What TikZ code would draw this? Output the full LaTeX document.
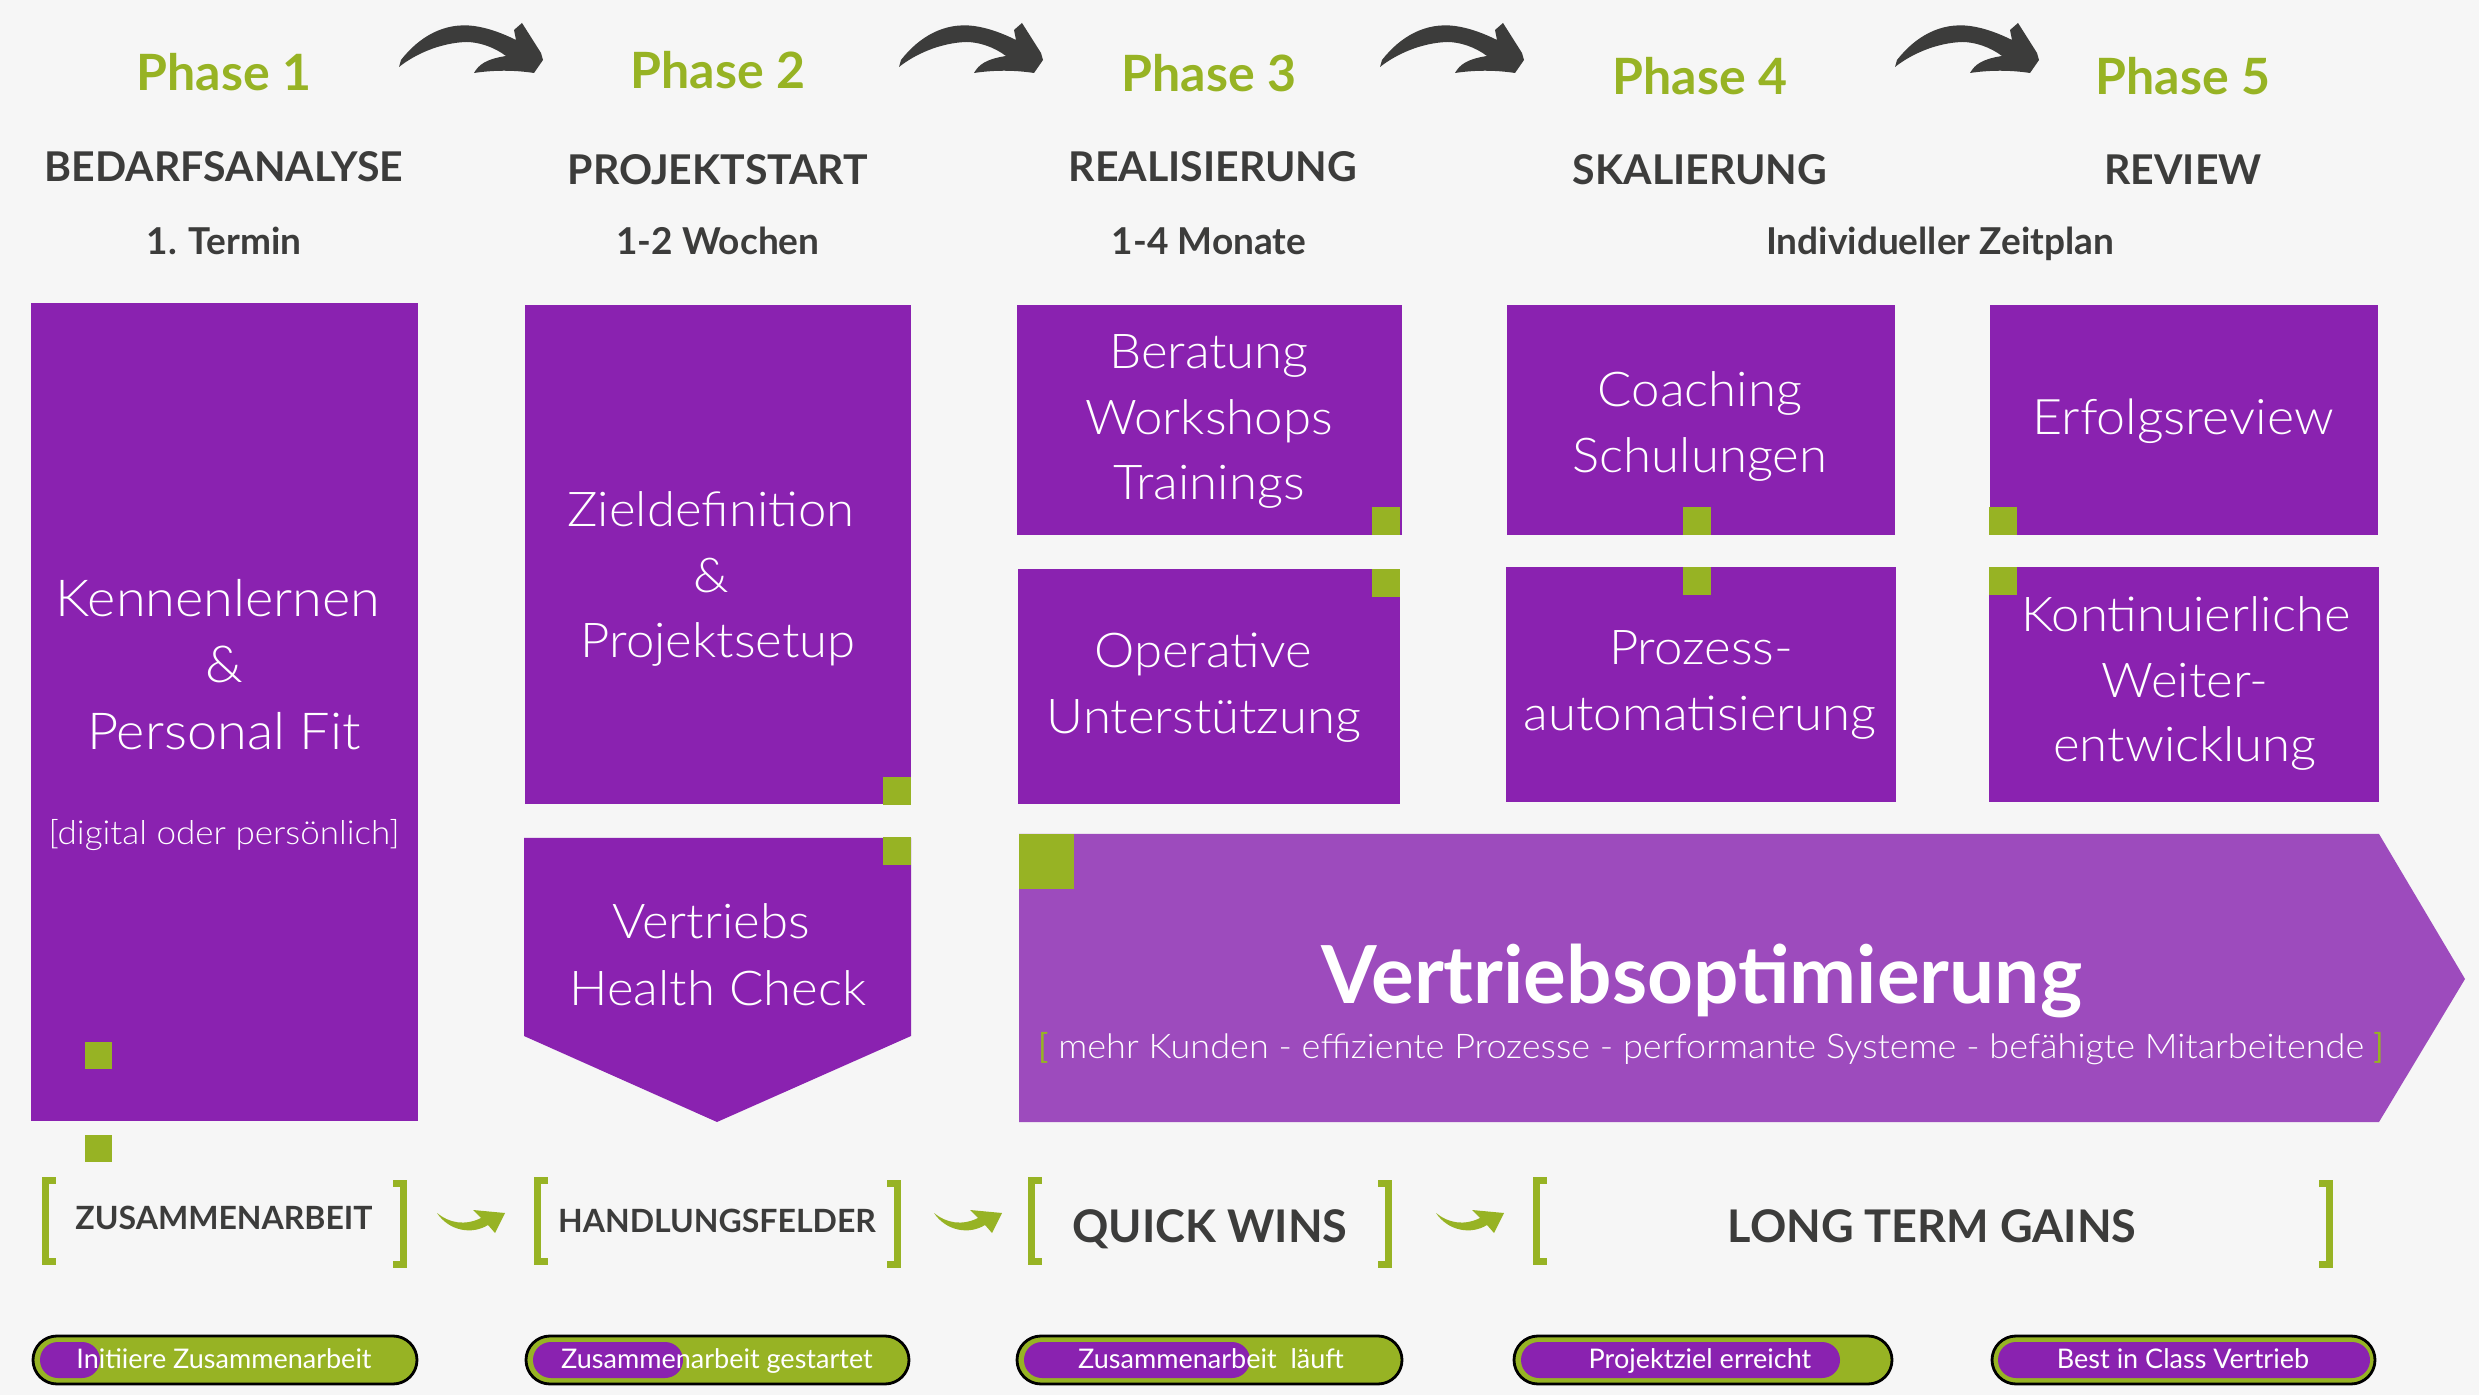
\documentclass[tikz,border=0pt]{standalone}
\usepackage{fontspec}
\setmainfont{Lato}
\IfFontExistsTF{Lato Light}{\newfontfamily\lightf[FakeStretch=1.06]{Lato Light}}{\newfontfamily\lightf[FakeStretch=1.06]{Lato}}
\definecolor{bg}{HTML}{F6F6F6}
\definecolor{purp}{HTML}{8A22B0}
\definecolor{lpurp}{HTML}{9D4BBD}
\definecolor{grn}{HTML}{97B324}
\definecolor{dark}{HTML}{3C3C3B}
\newcommand\fsz[1]{\fontsize{\fpeval{#1*0.28453}}{\fpeval{#1*0.28453*1.2}}\selectfont}
\tikzset{
  boxfill/.style={fill=purp},
  sq/.style={fill=grn},
  bt/.style={anchor=base, inner sep=0pt, text=white, font={\lightf\fsz{#1}}},
  phase/.style={anchor=base, inner sep=0pt, text=grn, font={\bfseries\fsz{50}}},
  head/.style={anchor=base, inner sep=0pt, text=dark, font={\bfseries\fsz{#1}}},
  pilltxt/.style={anchor=base, inner sep=0pt, text=white, font={\fsz{27}}},
  pillout/.style={draw=black, line width=0.8pt, fill=grn, rounded corners=0.24cm},
  pillin/.style={fill=purp, rounded corners=0.18cm},
  darr/.pic={\fill[dark] (0,0) -- (2,-7) .. controls (20,-30) and (45,-45) .. (75,-41)
     .. controls (90,-39) and (105,-33) .. (117,-27) -- (115,-37) -- (123,-44) -- (142,-14)
     -- (144,-7) -- (135,6) .. controls (115,3) and (95,3) .. (75,6)
     .. controls (80,-3) and (88,-8) .. (107,-11) .. controls (95,-20) and (80,-25) .. (67,-25)
     .. controls (40,-24) and (15,-12) .. (0,0) -- cycle;},
  garr/.pic={\fill[grn] (0,0) .. controls (12,10) and (28,13) .. (44,5) -- (36,-3) -- (68,0)
     -- (58,20) -- (51,12) .. controls (35,22) and (12,18) .. (0,0) -- cycle;},
  lbr/.pic={\fill[grn] (0,0) rectangle (14,7); \fill[grn] (0,0) rectangle (7,88); \fill[grn] (0,81) rectangle (14,88);},
  rbr/.pic={\fill[grn] (0,0) rectangle (14,7); \fill[grn] (7,0) rectangle (14,88); \fill[grn] (0,81) rectangle (14,88);}
}
\begin{document}
\begin{tikzpicture}[x=0.01cm,y=-0.01cm]
\useasboundingbox (0,0) rectangle (2479,1395);
\fill[bg] (0,0) rectangle (2479,1395);

% top curved arrows
\pic at (399,67) {darr};
\pic at (899,67) {darr};
\pic at (1380,67) {darr};
\pic at (1895,67) {darr};

% phase titles
\node[phase] (p1) at (224,91) {Phase 1};
\node[phase] (p2) at (718,89) {Phase 2};
\node[phase] (p3) at (1209,92) {Phase 3};
\node[phase] (p4) at (1700,95) {Phase 4};
\node[phase] (p5) at (2183,95) {Phase 5};

\node[head=41] (h1) at (224,182) {BEDARFSANALYSE};
\node[head=41] (h2) at (718,185) {PROJEKTSTART};
\node[head=41] (h3) at (1213,182) {REALISIERUNG};
\node[head=41] (h4) at (1700,185) {SKALIERUNG};
\node[head=41] (h5) at (2183,185) {REVIEW};

\node[head=37] (d1) at (224,255) {1. Termin};
\node[head=37] (d2) at (718,255) {1-2 Wochen};
\node[head=37] (d3) at (1209,255) {1-4 Monate};
\node[head=37] (d4) at (1940,255) {Individueller Zeitplan};

% boxes
\fill[boxfill] (31,303) rectangle (418,1121);
\fill[boxfill] (525,305) rectangle (911,804);
\fill[boxfill] (524,838) -- (911,838) -- (911,1036) -- (717,1122) -- (524,1036) -- cycle;
\fill[boxfill] (1017,305) rectangle (1402,535);
\fill[boxfill] (1018,569) rectangle (1400,804);
\fill[boxfill] (1507,305) rectangle (1895,535);
\fill[boxfill] (1506,567) rectangle (1896,802);
\fill[boxfill] (1990,305) rectangle (2378,535);
\fill[boxfill] (1989,567) rectangle (2379,802);
\fill[lpurp] (1019,834) -- (2379,834) -- (2465,979) -- (2379,1122) -- (1019,1122) -- cycle;

% green squares
\fill[sq] (85,1042) rectangle (112,1069);
\fill[sq] (85,1135) rectangle (112,1162);
\fill[sq] (883,777) rectangle (911,805);
\fill[sq] (883,837) rectangle (911,865);
\fill[sq] (1372,507) rectangle (1400,535);
\fill[sq] (1372,569) rectangle (1400,597);
\fill[sq] (1683,507) rectangle (1711,535);
\fill[sq] (1683,567) rectangle (1711,595);
\fill[sq] (1989,507) rectangle (2017,535);
\fill[sq] (1989,567) rectangle (2017,595);
\fill[sq] (1019,834) rectangle (1074,889);

% box texts
\node[bt=51] (k1) at (218,617) {Kennenlernen};
\node[bt=51] (k2) at (224,683) {\&};
\node[bt=51] (k3) at (224,750) {Personal Fit};
\node[bt=33] (k4) at (224,844) {[digital oder persönlich]};

\node[bt=48] (z1) at (711,527) {Zieldefinition};
\node[bt=48] (z2) at (711,593) {\&};
\node[bt=48] (z3) at (718,658) {Projektsetup};

\node[bt=48] (v1) at (711,939) {Vertriebs};
\node[bt=48] (v2) at (718,1005) {Health Check};

\node[bt=48] (r1) at (1209,369) {Beratung};
\node[bt=48] (r2) at (1209,435) {Workshops};
\node[bt=48] (r3) at (1209,500) {Trainings};

\node[bt=48] (o1) at (1203,668) {Operative};
\node[bt=48] (o2) at (1204,734) {Unterstützung};

\node[bt=48] (c1) at (1700,407) {Coaching};
\node[bt=48] (c2) at (1700,473) {Schulungen};

\node[bt=48] (a1) at (1701,665) {Prozess-};
\node[bt=48] (a2) at (1700,731) {automatisierung};

\node[bt=49] (e1) at (2183,435) {Erfolgsreview};

\node[bt=48] (w1) at (2186,632) {Kontinuierliche};
\node[bt=48] (w2) at (2185,698) {Weiter-};
\node[bt=48] (w3) at (2185,762) {entwicklung};

\node[anchor=base, inner sep=0pt, text=white, font={\bfseries\fsz{80}}] (vo) at (1702,1003) {Vertriebsoptimierung};
\node[bt=34] (vs) at (1711,1058) {{\normalfont\fsz{34}\color{grn}[} mehr Kunden - effiziente Prozesse - performante Systeme - befähigte Mitarbeitende {\normalfont\fsz{34}\color{grn}]}};

% brackets and small arrows
\pic at (42,1177) {lbr};
\pic at (393,1180) {rbr};
\pic at (534,1177) {lbr};
\pic at (887,1180) {rbr};
\pic at (1028,1177) {lbr};
\pic at (1378,1180) {rbr};
\pic at (1533,1177) {lbr};
\pic at (2319,1180) {rbr};
\pic at (437,1213) {garr};
\pic at (934,1213) {garr};
\pic at (1436,1213) {garr};

\node[head=32] (l1) at (224,1229) {ZUSAMMENARBEIT};
\node[head=32] (l2) at (717,1232) {HANDLUNGSFELDER};
\node[head=45] (l3) at (1210,1242) {QUICK WINS};
\node[head=45] (l4) at (1932,1242) {LONG TERM GAINS};

% progress pills
\draw[pillout] (33,1336) rectangle (417,1384);
\fill[pillin] (40,1342) rectangle (100,1378);
\draw[pillout] (526,1336) rectangle (909,1384);
\fill[pillin] (533,1342) rectangle (683,1378);
\draw[pillout] (1017,1336) rectangle (1402,1384);
\fill[pillin] (1024,1342) rectangle (1250,1378);
\draw[pillout] (1514,1336) rectangle (1892,1384);
\fill[pillin] (1521,1342) rectangle (1840,1378);
\draw[pillout] (1992,1336) rectangle (2375,1384);
\fill[pillin] (1998,1342) rectangle (2370,1378);

\node[pilltxt] (q1) at (224,1368) {Initiiere Zusammenarbeit};
\node[pilltxt] (q2) at (717,1368) {Zusammenarbeit gestartet};
\node[pilltxt] (q3) at (1211,1368) {Zusammenarbeit\ \ läuft};
\node[pilltxt] (q4) at (1700,1368) {Projektziel erreicht};
\node[pilltxt] (q5) at (2183,1368) {Best in Class Vertrieb};
\end{tikzpicture}
\end{document}
